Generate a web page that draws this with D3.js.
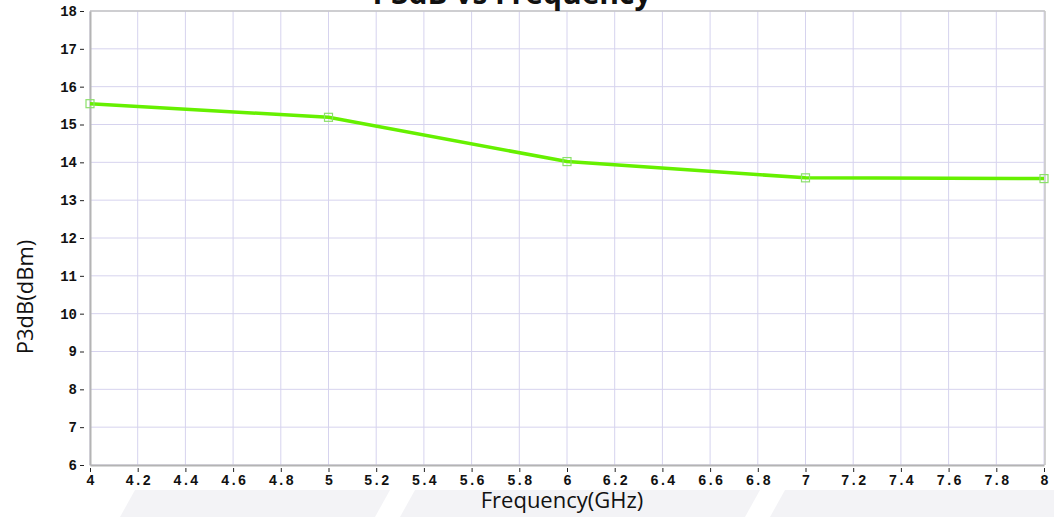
<!DOCTYPE html>
<html>
<head>
<meta charset="utf-8">
<script src="https://cdn.jsdelivr.net/npm/d3@7"></script>
<style>
  body { margin: 0; background: #fff; }
</style>
</head>
<body>
<script>
const width = 1054
const height = 517

const freqs = [4, 5, 6, 7, 8]
const p3db = [15.55, 15.19, 14.02, 13.59, 13.57]
const xTicks = [4, 4.2, 4.4, 4.6, 4.8, 5, 5.2, 5.4, 5.6, 5.8, 6, 6.2, 6.4, 6.6, 6.8, 7, 7.2, 7.4, 7.6, 7.8, 8]
const yTicks = [6, 7, 8, 9, 10, 11, 12, 13, 14, 15, 16, 17, 18]

const svg = d3.select('body').append('svg')
    .attr('width', width)
    .attr('height', height)

// faint watermark shapes at the bottom
const wm = [
    [[120, 517], [135, 490], [390, 490], [375, 517]],
    [[400, 517], [415, 490], [760, 490], [745, 517]],
    [[770, 517], [785, 490], [1054, 490], [1054, 517]]
]
svg.selectAll('polygon.wm').data(wm).enter().append('polygon')
    .attr('points', d => d.map(p => p.join(',')).join(' '))
    .style('fill', '#f3f3f6')
svg.append('rect').attr('x', 0).attr('y', 0).attr('width', width).attr('height', 490).style('fill', '#fff')

const x = d3.scaleLinear().domain([4, 8]).range([90, 1044])
const y = d3.scaleLinear().domain([6, 18]).range([465, 11])

// grid
svg.selectAll('line.vg').data(xTicks).enter().append('line')
    .attr('x1', d => x(d)).attr('x2', d => x(d))
    .attr('y1', y(18)).attr('y2', y(6))
    .style('stroke', '#d6d3ee').style('stroke-width', 1)
svg.selectAll('line.hg').data(yTicks).enter().append('line')
    .attr('x1', x(4)).attr('x2', x(8))
    .attr('y1', d => y(d)).attr('y2', d => y(d))
    .style('stroke', '#d6d3ee').style('stroke-width', 1)

// frame
svg.append('line').attr('x1', x(4)).attr('x2', x(8) + 1).attr('y1', y(18)).attr('y2', y(18))
    .style('stroke', '#c4c4c4').style('stroke-width', 1.5)
svg.append('line').attr('x1', x(8) + 1).attr('x2', x(8) + 1).attr('y1', y(18)).attr('y2', y(6))
    .style('stroke', '#c4c4c4').style('stroke-width', 1.5)

// y axis
const yAxis = svg.append('g').attr('transform', `translate(${x(4)},0)`)
    .call(d3.axisLeft(y).tickValues(yTicks).tickSize(0).tickPadding(0).tickFormat(d3.format('d')))
yAxis.select('.domain').style('stroke', '#b4b4b4').style('stroke-width', 2)
yAxis.selectAll('.tick line').attr('x1', -10).attr('x2', -6).style('stroke', '#222').style('stroke-width', 1)
yAxis.selectAll('.tick text').attr('x', -13)
    .style('font-family', '"Liberation Mono", monospace').style('font-weight', 'bold')
    .style('font-size', '14px').style('fill', '#111')

// x axis
const xAxis = svg.append('g').attr('transform', `translate(0,${y(6)})`)
    .call(d3.axisBottom(x).tickValues(xTicks).tickSize(0).tickPadding(0).tickFormat(d => String(+d.toFixed(1))))
xAxis.select('.domain').style('stroke', '#b4b4b4').style('stroke-width', 2)
xAxis.selectAll('.tick line').attr('y1', 3).attr('y2', 7).style('stroke', '#222').style('stroke-width', 1)
xAxis.selectAll('.tick text').attr('y', 10)
    .style('font-family', '"Liberation Mono", monospace').style('font-weight', 'bold')
    .style('font-size', '14px').style('fill', '#111')

// line
const line = d3.line()
    .x((d, i) => x(freqs[i]))
    .y(d => y(d))

svg.append('path')
    .datum(p3db)
    .attr('d', line)
    .style('fill', 'none')
    .style('stroke', '#66f000')
    .style('stroke-width', 3.5)
    .style('stroke-linejoin', 'round')

svg.selectAll('rect.mk').data(p3db).enter().append('rect')
    .attr('x', (d, i) => x(freqs[i]) - 4)
    .attr('y', d => y(d) - 4)
    .attr('width', 8).attr('height', 8)
    .style('fill', 'none')
    .style('stroke', '#8be06a')
    .style('stroke-width', 1.2)

// titles
svg.append('text')
    .attr('x', 512).attr('y', 4)
    .attr('text-anchor', 'middle')
    .style('font-family', '"Open Sans", sans-serif').style('font-weight', 'bold')
    .style('font-size', '30px').style('fill', '#111')
    .text('P3dB vs Frequency')

svg.append('text')
    .attr('x', 562).attr('y', 508)
    .attr('text-anchor', 'middle')
    .style('font-family', '"Open Sans", sans-serif')
    .style('font-size', '22px').style('fill', '#111')
    .text('Frequency(GHz)')

svg.append('text')
    .attr('transform', 'translate(33,297) rotate(-90)')
    .attr('text-anchor', 'middle')
    .style('font-family', '"Open Sans", sans-serif')
    .style('font-size', '22px').style('fill', '#111')
    .text('P3dB(dBm)')
</script>
</body>
</html>
